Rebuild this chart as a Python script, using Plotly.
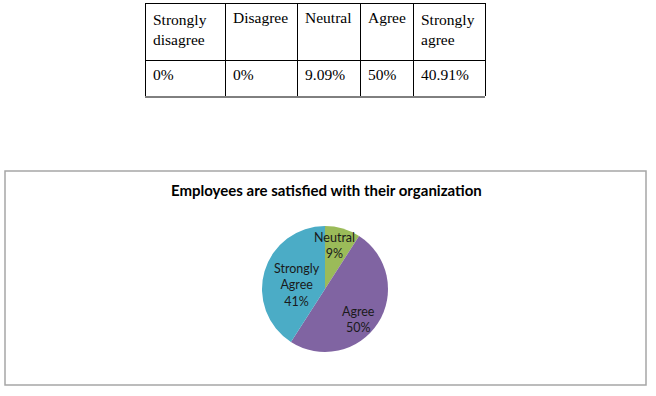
import math
import plotly.graph_objects as go

# ---- data ----
table_categories = ["Strongly disagree", "Disagree", "Neutral", "Agree", "Strongly agree"]
table_values = [0, 0, 9.09, 50, 40.91]

pie_labels = ["Neutral", "Agree", "Strongly Agree"]
pie_values = [9.09, 50, 40.91]
pie_colors = ["#9BBB59", "#8064A2", "#4BACC6"]
chart_title = "Employees are satisfied with their organization"

# ---- layout constants (pixels) ----
W, H = 656, 396
def px(x):
    return x / W
def py(y):
    return 1 - y / H

tbl_left, tbl_right, tbl_top, tbl_bottom = 145, 485, 3, 97
col_widths = [80, 72, 63, 53, 72]

cx, cy, R = 325, 289, 63
label_radius_frac = [0.71, 0.72, 0.45]
label_angle_offset = [-3.6, 10, -8]   # degrees, placement tweak like Excel's best fit

fig = go.Figure()

# Table
header_text = [c.replace(" ", "<br>") for c in table_categories]
cell_text = [[f"{v:g}%"] for v in table_values]
fig.add_trace(go.Table(
    domain=dict(x=[px(tbl_left), px(tbl_right)], y=[py(tbl_bottom), py(tbl_top)]),
    columnwidth=col_widths,
    header=dict(values=header_text, align="left", height=57,
                line=dict(color="black", width=1), fill=dict(color="white"),
                font=dict(family="Liberation Serif", size=15.5, color="black")),
    cells=dict(values=cell_text, align="left", height=37,
               line=dict(color="black", width=1), fill=dict(color="white"),
               font=dict(family="Liberation Serif", size=15.5, color="black")),
))

# Pie
fig.add_trace(go.Pie(
    labels=pie_labels, values=pie_values, sort=False, direction="clockwise",
    rotation=0, marker=dict(colors=pie_colors, line=dict(width=0)),
    textinfo="none", showlegend=False, hoverinfo="label+percent",
    domain=dict(x=[px(cx - R), px(cx + R)], y=[py(cy + R), py(cy - R)]),
))

# Pie labels computed from slice angles
total = sum(pie_values)
cum = 0
annotations = []
for lab, v, f, off in zip(pie_labels, pie_values, label_radius_frac, label_angle_offset):
    mid = (cum + v / 2) / total * 2 * math.pi + math.radians(off)
    cum += v
    lx = cx + R * f * math.sin(mid)
    ly = cy - R * f * math.cos(mid)
    txt = lab.replace(" ", "<br>") + f"<br>{round(v / total * 100)}%"
    annotations.append(dict(x=px(lx), y=py(ly), xref="paper", yref="paper",
                             xanchor="center", yanchor="middle",
                             text=txt, showarrow=False, align="center",
                             font=dict(family="Lato", size=12.5, color="#1a1a1a")))

annotations.append(dict(x=px(326), y=py(190), xref="paper", yref="paper",
                        xanchor="center", yanchor="middle",
                        text=f"<b>{chart_title}</b>", showarrow=False,
                        font=dict(family="Lato", size=15, color="black")))

fig.update_layout(
    width=W, height=H, margin=dict(l=0, r=0, t=0, b=0),
    paper_bgcolor="white", plot_bgcolor="white",
    annotations=annotations,
    shapes=[
        dict(type="rect", xref="paper", yref="paper",
             x0=px(5), x1=px(646), y0=py(385), y1=py(171),
             line=dict(color="#A6A6A6", width=1.5)),
        dict(type="line", xref="paper", yref="paper",
             x0=px(tbl_left), x1=px(tbl_right), y0=py(tbl_bottom), y1=py(tbl_bottom),
             line=dict(color="black", width=1)),
    ],
)

fig.write_html("out.html", config={"displayModeBar": False},
               post_script="document.body.style.margin='0';")
